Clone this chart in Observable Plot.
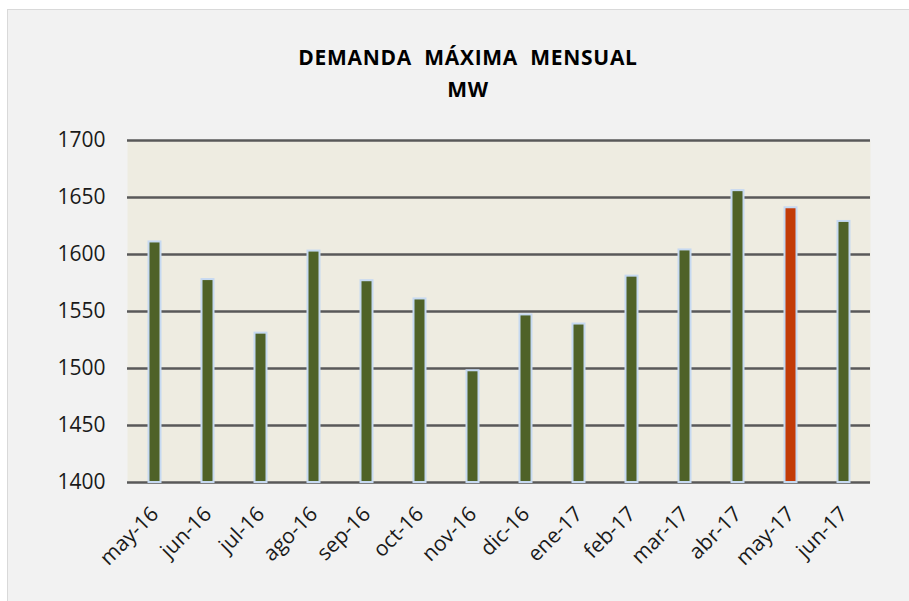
<!DOCTYPE html>
<html><head><meta charset="utf-8">
<script src="https://cdn.jsdelivr.net/npm/d3@7"></script>
<script src="https://cdn.jsdelivr.net/npm/@observablehq/plot@0.6"></script>
<style>
body{margin:0;background:#fff;width:909px;height:601px;overflow:hidden;position:relative;font-family:"Open Sans",sans-serif}
#frame{position:absolute;left:7px;top:9px;width:910px;height:600px;background:#f2f2f2;border:1px solid #d9d9d9;box-sizing:border-box}
#title{position:absolute;left:468px;top:41px;transform:translateX(-50%);text-align:center;font-weight:700;font-size:21px;letter-spacing:0.7px;line-height:32px;white-space:pre;color:#000}
#chart{position:absolute;left:0;top:110px}
</style></head><body>
<div id="frame"></div>
<div id="title">DEMANDA  MÁXIMA  MENSUAL
MW</div>
<div id="chart"></div>
<script>
const months = ["may-16","jun-16","jul-16","ago-16","sep-16","oct-16","nov-16","dic-16","ene-17","feb-17","mar-17","abr-17","may-17","jun-17"];
const demand = [1611,1578,1531,1603,1577,1561,1498,1547,1539,1581,1604,1656,1641,1629];
const highlightMonth = "may-17";
const yTicks = [1400,1450,1500,1550,1600,1650,1700];

const data = months.map((m, i) => ({mes: m, mw: demand[i], tipo: m === highlightMonth ? "actual" : "base"}));
const yMin = yTicks[0], yMax = yTicks[yTicks.length - 1];

const chart = Plot.plot({
  width: 909,
  height: 491,
  marginLeft: 127,
  marginRight: 39,
  marginTop: 30,
  marginBottom: 119,
  style: {background: "transparent", fontFamily: "'Open Sans', sans-serif", fontSize: "21px", color: "#1a1a1a"},
  x: {domain: months, padding: 0, label: null},
  y: {domain: [yMin, yMax], label: null},
  color: {domain: ["base", "actual"], range: ["#4f6228", "#c23b08"]},
  marks: [
    Plot.frame({fill: "#eeece1", stroke: null}),
    Plot.ruleY(yTicks, {stroke: "#595959", strokeWidth: 2.5}),
    Plot.barY(data, {x: "mes", y1: yMin, y2: "mw", fill: "tipo", stroke: "#c6d9f1", strokeWidth: 2, insetLeft: 20.5, insetRight: 20.5}),
    Plot.axisY(yTicks, {tickSize: 0, tickPadding: 22, fontSize: 21, label: null, tickFormat: d => String(d)}),
    Plot.axisX({tickSize: 0, tickRotate: -45, tickPadding: 28, fontSize: 21, label: null})
  ]
});
document.getElementById("chart").appendChild(chart);
</script>
</body></html>
